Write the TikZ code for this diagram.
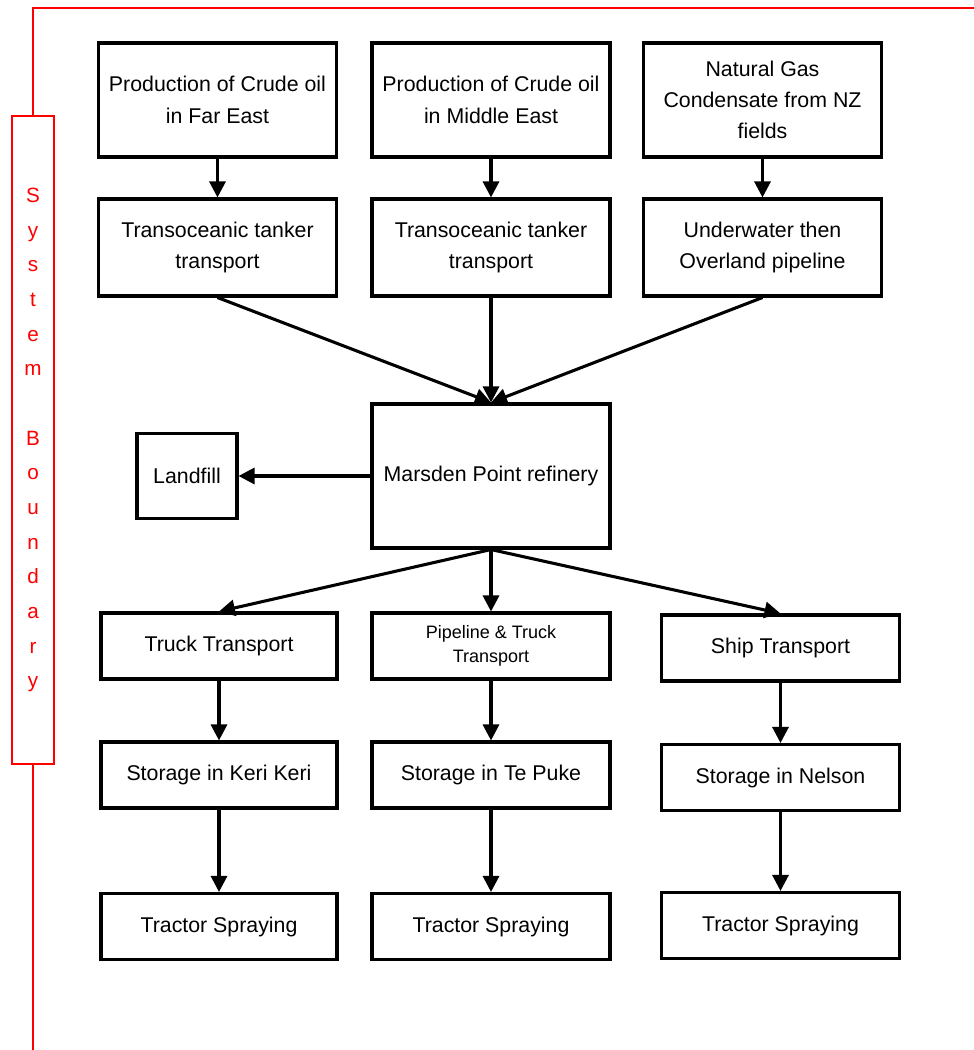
\documentclass[tikz,border=0pt]{standalone}
\usepackage{fontspec}
\setmainfont{Liberation Sans}
\usetikzlibrary{arrows.meta}

\begin{document}
\begin{tikzpicture}[x=0.75pt, y=-0.75pt, >={Triangle[width=12pt,length=12pt]}, line width=2.3pt,
box node/.style={draw, line width=2.3pt, minimum width=178.5pt, inner sep=0pt, align=center, font=\fontsize{16}{23.5}\selectfont},
red node/.style={draw=red, line width=1.8pt, text=red, minimum width=31.5pt, minimum height=486pt, inner sep=0pt, align=center, font=\fontsize{15.5}{26}\selectfont},
red line/.style={red, line width=1.8pt}]
\useasboundingbox (0,0) rectangle (974,1050);
% system boundary
\node[red node] (sb) at (33,440) {S\\y\\s\\t\\e\\m\\[26pt]B\\o\\u\\n\\d\\a\\r\\y};
\coordinate (t1) at (33,8);
\coordinate (t2) at (974,8);
\coordinate (b1) at (33,1050);
\draw[red line] (t2) -- (t1) -- (sb.north);
\draw[red line] (sb.south) -- (b1);
% sources
\node[box node, minimum height=85.5pt] (1) at (217.5,100) {Production of Crude oil\\in Far East};
\node[box node, minimum height=85.5pt] (2) at (491,100) {Production of Crude oil\\in Middle East};
\node[box node, minimum height=85.5pt] (3) at (762.5,100) {Natural Gas\\Condensate from NZ\\fields};
\node[box node, minimum height=72.75pt] (4) at (217.5,247.5) {Transoceanic tanker\\transport};
\node[box node, minimum height=72.75pt] (5) at (491,247.5) {Transoceanic tanker\\transport};
\node[box node, minimum height=72.75pt] (6) at (762.5,247.5) {Underwater then\\Overland pipeline};
% refinery
\node[box node, minimum height=108pt] (7) at (491,476) {Marsden Point refinery};
\node[box node, minimum width=75pt, minimum height=63.75pt] (8) at (187,476) {Landfill};
% distribution
\node[box node, minimum width=177pt, minimum height=49.5pt] (9) at (219,646) {Truck Transport};
\node[box node, minimum height=49.5pt, font=\fontsize{13.5}{18}\selectfont] (10) at (491,646) {Pipeline \& Truck\\Transport};
\node[box node, minimum height=49.5pt] (11) at (780.5,648) {Ship Transport};
\node[box node, minimum width=177pt, minimum height=49.5pt] (12) at (219,775) {Storage in Keri Keri};
\node[box node, minimum height=49.5pt] (13) at (491,775) {Storage in Te Puke};
\node[box node, minimum height=49.5pt] (14) at (780.5,777.5) {Storage in Nelson};
\node[box node, minimum width=177pt, minimum height=49.5pt] (15) at (219,926.5) {Tractor Spraying};
\node[box node, minimum height=49.5pt] (16) at (491,926.5) {Tractor Spraying};
\node[box node, minimum height=49.5pt] (17) at (780.5,925.5) {Tractor Spraying};
\path[->]
(1) edge (4)
(2) edge (5)
(3) edge (6)
(4.south) edge (7.north)
(5.south) edge (7.north)
(6.south) edge (7.north)
(7) edge (8)
(7.south) edge (9.north)
(7.south) edge (10.north)
(7.south) edge (11.north)
(9) edge (12)
(10) edge (13)
(11) edge (14)
(12) edge (15)
(13) edge (16)
(14) edge (17);
\end{tikzpicture}
\end{document}
